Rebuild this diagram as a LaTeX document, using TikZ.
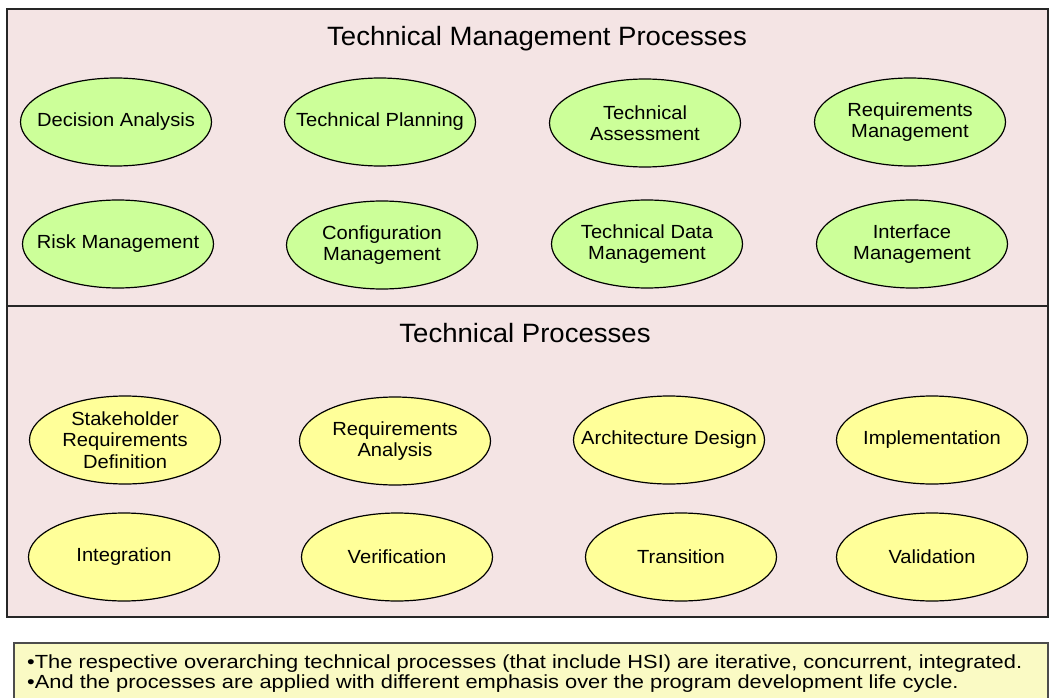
\documentclass[tikz,border=0pt]{standalone}
\usepackage{fontspec}
\setmainfont{Liberation Sans}
\newfontfamily\ellfont[FakeStretch=1.06]{Liberation Sans}
\newfontfamily\ttlfont[FakeStretch=1.04]{Liberation Sans}
\newfontfamily\notefont[FakeStretch=1.15]{Liberation Sans}
\usetikzlibrary{shapes.geometric}
\definecolor{panelpink}{HTML}{F4E4E4}
\definecolor{mgmtgreen}{HTML}{CCFF99}
\definecolor{procyellow}{HTML}{FFFF99}
\definecolor{notefill}{HTML}{FAFAC4}
\begin{document}
\begin{tikzpicture}[x=1pt,y=-1pt,
  proclbl/.style={align=center, inner sep=0pt, font=\ellfont\fontsize{19}{21.5}\selectfont},
  proc/.style={ellipse, draw=black, line width=1.2pt, minimum width=191pt, minimum height=88pt,
    inner sep=0pt, label={[proclbl]center:#1}},
  mgmt/.style={proc={#1}, fill=mgmtgreen},
  tech/.style={proc={#1}, fill=procyellow},
  paneltitle/.style={font=\ttlfont\fontsize{26.5}{30}\selectfont, inner sep=0pt, anchor=base},
  panelbox/.style={fill=panelpink, draw=black!85, line width=1.1pt},
  notebox/.style={fill=notefill, draw=black!70, line width=1.1pt},
  notetext/.style={anchor=base west, inner sep=0pt, font=\notefont\fontsize{19}{17}\selectfont}
]
\useasboundingbox (0,0) rectangle (1049,698);
\fill[white] (0,0) rectangle (1049,698);
% main panel
\draw[panelbox] (7,9) rectangle (1048,617);
\draw[black!85, line width=1.1pt] (7,306) -- (1048,306);
\node[paneltitle] (t1) at (537,46) {Technical Management Processes};
\node[paneltitle] (t2) at (525,342) {Technical Processes};
% management processes
\node[mgmt={Decision Analysis}]          (da)  at (116,122) {};
\node[mgmt={Technical Planning}]         (tp)  at (380,122) {};
\node[mgmt={Technical\\Assessment}]      (ta)  at (645,123) {};
\node[mgmt={Requirements\\Management}]   (rqm) at (910,122) {};
\node[mgmt={Risk Management}]            (rkm) at (118,244) {};
\node[mgmt={Configuration\\Management}]  (cm)  at (382,245) {};
\node[mgmt={Technical Data\\Management}] (tdm) at (647,244) {};
\node[mgmt={Interface\\Management}]      (im)  at (912,244) {};
% technical processes
\node[tech={Stakeholder\\Requirements\\Definition}] (srd) at (125,440) {};
\node[tech={Requirements\\Analysis}] (ra)  at (395,441) {};
\node[tech={Architecture Design}]    (ad)  at (669,440) {};
\node[tech={Implementation}]         (imp) at (932,440) {};
\node[tech={Integration}]            (int) at (124,557) {};
\node[tech={Verification}]           (ver) at (397,557) {};
\node[tech={Transition}]             (tr)  at (681,557) {};
\node[tech={Validation}]             (val) at (932,557) {};
% note
\draw[notebox] (14,643) rectangle (1048,706);
\node[notetext] (note1) at (27,668) {•The respective overarching technical processes (that include HSI) are iterative, concurrent, integrated.};
\node[notetext] (note2) at (27,688) {•And the processes are applied with different emphasis over the program development life cycle.};
\end{tikzpicture}
\end{document}
